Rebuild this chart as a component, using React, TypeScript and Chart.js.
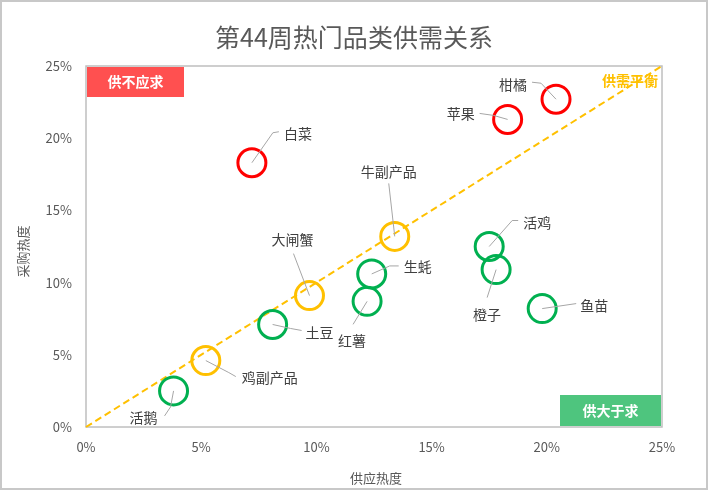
import React, { useEffect, useRef } from "react";
import { Chart, registerables } from "chart.js";

Chart.register(...registerables);

// ---- data ----
const categories = ["柑橘", "苹果", "白菜", "牛副产品", "大闸蟹", "鸡副产品", "活鸡", "橙子", "生蚝", "红薯", "鱼苗", "土豆", "活鹅"];
const supplyHeat = [20.4, 18.3, 7.2, 13.4, 9.7, 5.2, 17.5, 17.8, 12.4, 12.2, 19.8, 8.1, 3.8];
const demandHeat = [22.7, 21.3, 18.3, 13.2, 9.1, 4.6, 12.5, 10.9, 10.6, 8.7, 8.2, 7.1, 2.5];
const status = ["short", "short", "short", "balance", "balance", "balance", "surplus", "surplus", "surplus", "surplus", "surplus", "surplus", "surplus"];
const balanceX = [0, 25];
const balanceY = [0, 25];
const axisMin = 0;
const axisMax = 25;
const axisStep = 5;

const titleText = "第44周热门品类供需关系";
const xTitle = "供应热度";
const yTitle = "采购热度";
const shortLabel = "供不应求";
const surplusLabel = "供大于求";
const balanceLabel = "供需平衡";

// ---- style ----
const FONT = "'Noto Sans CJK SC', 'Noto Sans', sans-serif";
const statusColor: Record<string, string> = { short: "#FF0000", balance: "#FFC000", surplus: "#00B050" };

// leader line / label placement (pixel offsets from the point)
const labelLayout: { path: number[][]; text: number[]; align: CanvasTextAlign }[] = [
  { path: [[-15, -16], [-24, -17]], text: [-29, -15], align: "right" },
  { path: [[-14, -4], [-28, -6]], text: [-33, -6], align: "right" },
  { path: [[21, -30], [27, -31]], text: [32, -29], align: "left" },
  { path: [[-6, -53]], text: [-6, -65], align: "center" },
  { path: [[-16, -42]], text: [-17, -56], align: "center" },
  { path: [[23, 12], [30, 16]], text: [36, 17], align: "left" },
  { path: [[23, -26], [29, -26]], text: [34, -24], align: "left" },
  { path: [[-9, 28]], text: [-9, 45], align: "center" },
  { path: [[18, -8], [27, -8]], text: [32, -7], align: "left" },
  { path: [[-14, 23]], text: [-15, 39], align: "center" },
  { path: [[34, -5]], text: [38, -3], align: "left" },
  { path: [[18, 4], [29, 6]], text: [33, 8], align: "left" },
  { path: [[-3, 16], [-9, 25]], text: [-16, 27], align: "right" },
];

const decorPlugin = {
  id: "decor",
  beforeDatasetsDraw(chart: any) {
    const { ctx, chartArea: a } = chart;
    ctx.save();
    // plot border
    ctx.strokeStyle = "#BFBFBF";
    ctx.lineWidth = 1.5;
    ctx.strokeRect(a.left, a.top, a.right - a.left, a.bottom - a.top);
    // corner boxes
    ctx.fillStyle = "#FF5050";
    ctx.fillRect(a.left + 1, a.top + 1, 97, 30);
    ctx.fillStyle = "#4EC57E";
    ctx.fillRect(a.right - 102, a.bottom - 32, 101, 31);
    ctx.font = `bold 14px ${FONT}`;
    ctx.fillStyle = "#FFFFFF";
    ctx.textAlign = "center";
    ctx.textBaseline = "middle";
    ctx.fillText(shortLabel, a.left + 1 + 48.5, a.top + 16);
    ctx.fillText(surplusLabel, a.right - 102 + 50.5, a.bottom - 16);
    ctx.restore();
  },
  afterDatasetsDraw(chart: any) {
    const { ctx, chartArea: a } = chart;
    const meta = chart.getDatasetMeta(0);
    ctx.save();
    ctx.font = `14px ${FONT}`;
    ctx.textBaseline = "middle";
    meta.data.forEach((pt: any, i: number) => {
      const L = labelLayout[i];
      if (!L) return;
      ctx.strokeStyle = "#A6A6A6";
      ctx.lineWidth = 1;
      ctx.beginPath();
      ctx.moveTo(pt.x, pt.y);
      L.path.forEach((p) => ctx.lineTo(pt.x + p[0], pt.y + p[1]));
      ctx.stroke();
      ctx.fillStyle = "#404040";
      ctx.textAlign = L.align;
      ctx.fillText(categories[i], pt.x + L.text[0], pt.y + L.text[1]);
    });
    // balance label
    ctx.font = `bold 14px ${FONT}`;
    ctx.fillStyle = "#FFC000";
    ctx.textAlign = "right";
    ctx.fillText(balanceLabel, a.right - 4, a.top + 15);
    ctx.restore();
  },
  afterDraw(chart: any) {
    const { ctx, chartArea: a } = chart;
    ctx.save();
    // title
    ctx.fillStyle = "#595959";
    ctx.textAlign = "center";
    ctx.textBaseline = "middle";
    ctx.font = `25px ${FONT}`;
    ctx.fillText(titleText, 354, 37);
    // axis titles
    ctx.font = `13px ${FONT}`;
    ctx.fillText(xTitle, (a.left + a.right) / 2 + 2, 478);
    ctx.translate(23, (a.top + a.bottom) / 2 + 5);
    ctx.rotate(-Math.PI / 2);
    ctx.fillText(yTitle, 0, 0);
    ctx.restore();
    // outer frame
    ctx.save();
    ctx.strokeStyle = "#C8C8C8";
    ctx.lineWidth = 2;
    ctx.strokeRect(1, 1, 706, 488);
    ctx.restore();
  },
};

export default function App() {
  const ref = useRef<HTMLCanvasElement | null>(null);
  useEffect(() => {
    if (!ref.current) return;
    const points = supplyHeat.map((x, i) => ({ x, y: demandHeat[i] }));
    const colors = status.map((s) => statusColor[s]);
    const line = balanceX.map((x, i) => ({ x, y: balanceY[i] }));
    const tickFont = { family: FONT, size: 13 };
    const chart = new Chart(ref.current, {
      type: "scatter",
      data: {
        datasets: [
          {
            type: "scatter",
            data: points,
            pointRadius: 14,
            pointHoverRadius: 14,
            pointBorderWidth: 3,
            pointBorderColor: colors,
            pointBackgroundColor: "rgba(0,0,0,0)",
            borderColor: colors,
            backgroundColor: "rgba(0,0,0,0)",
          } as any,
          {
            type: "line",
            data: line,
            borderColor: "#FFC000",
            borderWidth: 2,
            borderDash: [7, 4],
            pointRadius: 0,
            fill: false,
            clip: false,
          } as any,
        ],
      },
      options: {
        responsive: false,
        animation: false,
        devicePixelRatio: 1,
        layout: { padding: { top: 66, right: 47, bottom: 0, left: 0 } },
        plugins: { legend: { display: false }, tooltip: { enabled: false }, title: { display: false } },
        scales: {
          x: {
            type: "linear",
            min: axisMin,
            max: axisMax,
            grid: { display: false, drawTicks: false },
            border: { display: false },
            ticks: { stepSize: axisStep, padding: 12, color: "#595959", font: tickFont, callback: (v: any) => `${v}%` },
            afterFit: (s: any) => { s.height = 64; },
          },
          y: {
            type: "linear",
            min: axisMin,
            max: axisMax,
            grid: { display: false, drawTicks: false },
            border: { display: false },
            ticks: { stepSize: axisStep, padding: 14, color: "#595959", font: tickFont, callback: (v: any) => `${v}%` },
            afterFit: (s: any) => { s.width = 86; },
          },
        },
      } as any,
      plugins: [decorPlugin],
    });
    return () => chart.destroy();
  }, []);
  return (
    <div style={{ position: "fixed", left: 0, top: 0, width: 709, height: 491, background: "#fff" }}>
      <canvas ref={ref} width={709} height={491} style={{ width: 709, height: 491, display: "block" }} />
    </div>
  );
}
